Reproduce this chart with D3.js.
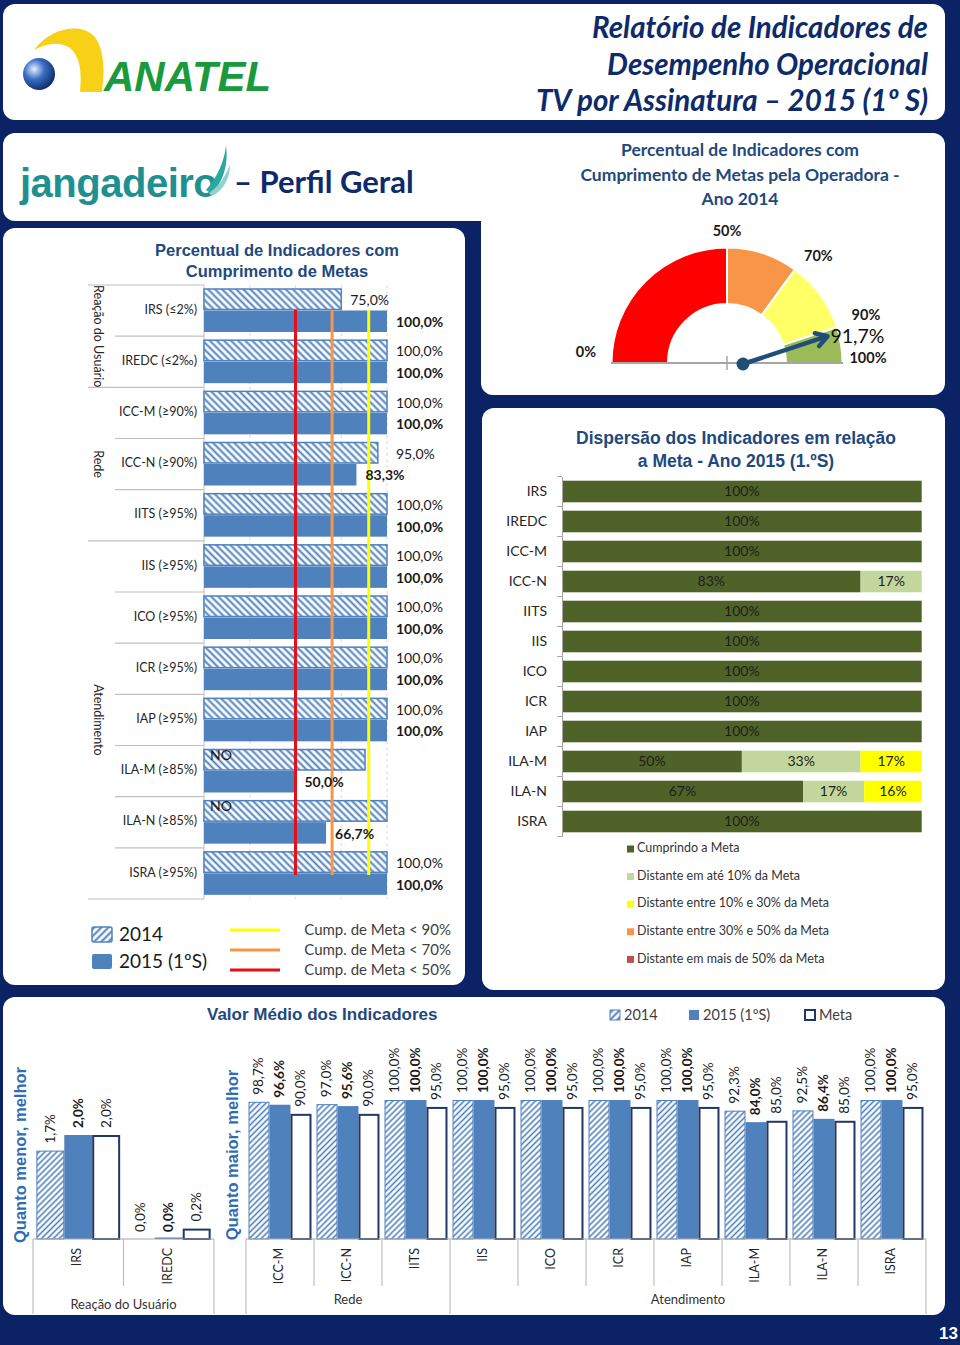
<!DOCTYPE html>
<html><head><meta charset="utf-8">
<script src="https://cdn.jsdelivr.net/npm/d3@7"></script>
<style>body{margin:0;background:#0b2265;} svg{display:block}</style>
</head><body><svg id="c" width="960" height="1345"></svg>
<script>
// ---------------- DATA ----------------
const indicators = ["IRS","IREDC","ICC-M","ICC-N","IITS","IIS","ICO","ICR","IAP","ILA-M","ILA-N","ISRA"];
const indicatorGoals = ["IRS (≤2%)","IREDC (≤2‰)","ICC-M (≥90%)","ICC-N (≥90%)","IITS (≥95%)","IIS (≥95%)","ICO (≥95%)","ICR (≥95%)","IAP (≥95%)","ILA-M (≥85%)","ILA-N (≥85%)","ISRA (≥95%)"];
const groupNames = ["Reação do Usuário","Rede","Atendimento"];
const groupFirst = ["IRS","ICC-M","IIS"];
const groupLast = ["IREDC","IITS","ISRA"];
// Percentual de indicadores com cumprimento de metas
const cump2014 = [75,100,100,95,100,100,100,100,100,88,100,100];
const cump2014Labels = ["75,0%","100,0%","100,0%","95,0%","100,0%","100,0%","100,0%","100,0%","100,0%","NO","NO","100,0%"];
const cump2015 = [100,100,100,83.3,100,100,100,100,100,50,66.7,100];
const thresholdValues = [90,70,50];
const thresholdTexts = ["Cump. de Meta < 90%","Cump. de Meta < 70%","Cump. de Meta < 50%"];
// Gauge (Ano 2014)
const gaugeStops = [0,50,70,90,100];
const gaugeValue = 91.7;
// Dispersão 2015 (1ºS)
const dispCumprindo = [100,100,100,83,100,100,100,100,100,50,67,100];
const dispAte10 = [0,0,0,17,0,0,0,0,0,33,17,0];
const disp10a30 = [0,0,0,0,0,0,0,0,0,17,16,0];
const disp30a50 = [0,0,0,0,0,0,0,0,0,0,0,0];
const dispMais50 = [0,0,0,0,0,0,0,0,0,0,0,0];
const dispSeriesNames = ["Cumprindo a Meta","Distante em até 10% da Meta","Distante entre 10% e 30% da Meta","Distante entre 30% e 50% da Meta","Distante em mais de 50% da Meta"];
// Valor médio dos indicadores
const valor2014 = [1.7,0.0,98.7,97.0,100,100,100,100,100,92.3,92.5,100];
const valor2015 = [2.0,0.0,96.6,95.6,100,100,100,100,100,84.0,86.4,100];
const valorMeta = [2.0,0.2,90,90,95,95,95,95,95,85,85,95];
const seriesNames = ["2014","2015 (1ºS)","Meta"];

// ---------------- STYLE ----------------
const NAVY = "#0b2265", TITLE = "#1f497d", BLUE = "#4f81bd";
const CAL = "Lato, 'Open Sans', sans-serif", ARI = "'Liberation Sans', Arial, sans-serif";
const loc = d3.formatLocale({decimal:",", thousands:".", grouping:[3], currency:["R$",""]});
const pct1 = v => loc.format(".1f")(v) + "%";

const svg = d3.select("#c");
svg.append("rect").attr("width",960).attr("height",1345).attr("fill",NAVY);
const defs = svg.append("defs");
function hatch(id, angle, gap, sw){
  const p = defs.append("pattern").attr("id",id).attr("patternUnits","userSpaceOnUse")
    .attr("width",gap).attr("height",gap).attr("patternTransform",`rotate(${angle})`);
  p.append("rect").attr("width",gap).attr("height",gap).attr("fill","#fff");
  p.append("line").attr("x1",gap/2).attr("x2",gap/2).attr("y1",0).attr("y2",gap).attr("stroke",BLUE).attr("stroke-width",sw);
}
hatch("hL",-45,5,2);
hatch("hB",45,4.2,1.6);
hatch("hLeg",45,5,2);

// ---------------- PANELS ----------------
const panels = [[3,4,942,116],[3,133,478,88],[481,133,464,262],[3,228,462,757],[482,408,463,582],[3,997,942,318]];
svg.selectAll("rect.panel").data(panels).join("rect").attr("class","panel")
  .attr("x",d=>d[0]).attr("y",d=>d[1]).attr("width",d=>d[2]).attr("height",d=>d[3])
  .attr("rx",12).attr("fill","#fff");
svg.append("rect").attr("x",460).attr("y",133).attr("width",40).attr("height",88).attr("fill","#fff");

// ---------------- HEADER ----------------
const logo = svg.append("g");
logo.append("path").attr("d","M34,50 C50,28 80,22 94,36 C106,50 104,78 102,92 L80,92 C82,72 80,56 70,48 C60,41 46,43 34,50 Z").attr("fill","#f7d117");
const sg = defs.append("radialGradient").attr("id","sph").attr("cx","0.35").attr("cy","0.35").attr("r","0.7");
sg.append("stop").attr("offset","0").attr("stop-color","#e8f0ff");
sg.append("stop").attr("offset","0.45").attr("stop-color","#3b6fc4");
sg.append("stop").attr("offset","1").attr("stop-color","#0d2a6b");
logo.append("circle").attr("cx",39).attr("cy",74).attr("r",16).attr("fill","url(#sph)");
logo.append("text").attr("x",104).attr("y",91).attr("font-family",ARI).attr("font-weight","bold")
  .attr("font-style","italic").attr("font-size",42).attr("fill","#1a9a3c").text("ANATEL");
const titleLines = ["Relatório de Indicadores de","Desempenho Operacional","TV por Assinatura – 2015 (1º S)"];
svg.selectAll("text.ht").data(titleLines).join("text").attr("class","ht")
  .attr("x",928).attr("y",(d,i)=>38+i*36.5).attr("text-anchor","end")
  .attr("font-family",CAL).attr("font-weight","bold").attr("font-style","italic")
  .attr("font-size",29.5).attr("fill","#0d2a6b").text(d=>d);

// jangadeiro
svg.append("text").attr("x",20).attr("y",197).attr("font-family",ARI).attr("font-weight","bold")
  .attr("font-size",40).attr("fill","#1f9090").attr("letter-spacing",-0.5).text("jangadeiro");
svg.append("path").attr("d","M206,190 C217,178 224,162 226,146 C228,160 226,178 212,194 Z").attr("fill","#2aa8a0");
svg.append("path").attr("d","M209,193 C219,186 226,176 230,164 C230,178 224,190 212,196 Z").attr("fill","#8fd3cc");
svg.append("text").attr("x",234).attr("y",193).attr("font-family",CAL).attr("font-weight","bold")
  .attr("font-size",31).attr("fill","#0d2a6b").text("– Perfil Geral");

// ---------------- LEFT HORIZONTAL BARS ----------------
const L = svg.append("g");
["Percentual de Indicadores com","Cumprimento de Metas"].forEach((t,i)=>
  L.append("text").attr("x",277).attr("y",256+i*21).attr("text-anchor","middle").attr("font-family",ARI)
   .attr("font-weight","bold").attr("font-size",16.5).attr("fill",TITLE).text(t));
const ly = d3.scaleBand().domain(indicators).range([285,899]);
const lx = d3.scaleLinear().domain([0,100]).range([204,387]);
const ls = d3.scaleBand().domain(["2014","2015"]).range([4,47]);
L.selectAll("line.g").data([25,50,75,100]).join("line").attr("x1",d=>lx(d)).attr("x2",d=>lx(d))
  .attr("y1",285).attr("y2",899).attr("stroke","#d9d9d9").attr("stroke-dasharray","3,3");
const bounds = indicators.map(d=>ly(d)).concat([899]);
L.selectAll("line.s").data(bounds).join("line")
  .attr("x1",(d,i)=> (i===0||i===bounds.length-1||groupFirst.includes(indicators[i])) ? 88 : 115)
  .attr("x2",204).attr("y1",d=>d).attr("y2",d=>d).attr("stroke","#bfbfbf").attr("stroke-width",1.2);
L.append("line").attr("x1",204).attr("x2",204).attr("y1",285).attr("y2",899).attr("stroke","#bfbfbf");
L.selectAll("rect.b14").data(indicators).join("rect")
  .attr("x",lx(0)).attr("y",d=>ly(d)+ls("2014")).attr("height",ls.bandwidth()-1)
  .attr("width",(d,i)=>lx(cump2014[i])-lx(0)).attr("fill","url(#hL)").attr("stroke",BLUE).attr("stroke-width",1.5);
L.selectAll("rect.b15").data(indicators).join("rect")
  .attr("x",lx(0)).attr("y",d=>ly(d)+ls("2015")).attr("height",ls.bandwidth())
  .attr("width",(d,i)=>lx(cump2015[i])-lx(0)).attr("fill",BLUE);
const thrColors = ["#ffff00","#f79646","#e3101a"];
L.selectAll("line.t").data(thresholdValues).join("line").attr("x1",d=>lx(d)).attr("x2",d=>lx(d))
  .attr("y1",310).attr("y2",875).attr("stroke",(d,i)=>thrColors[i]).attr("stroke-width",3);
L.selectAll("text.l14").data(indicators).join("text")
  .attr("x",(d,i)=> cump2014Labels[i]==="NO" ? lx(0)+6 : (cump2014[i]>=90 ? lx(100)+9 : lx(cump2014[i])+9))
  .attr("y",(d,i)=> cump2014Labels[i]==="NO" ? ly(d)+ls("2014")+7 : ly(d)+ls("2014")+ls.bandwidth()/2+2)
  .attr("dominant-baseline","middle").attr("font-family",CAL).attr("font-size",14).attr("fill","#1a1a1a")
  .text((d,i)=>cump2014Labels[i]);
L.selectAll("text.l15").data(indicators).join("text")
  .attr("x",(d,i)=>lx(cump2015[i])+9).attr("y",d=>ly(d)+ls("2015")+ls.bandwidth()/2+2)
  .attr("dominant-baseline","middle").attr("font-family",CAL).attr("font-weight","bold").attr("font-size",14)
  .attr("fill","#1a1a1a").text((d,i)=>pct1(cump2015[i]));
L.selectAll("text.c").data(indicatorGoals).join("text").attr("x",197)
  .attr("y",(d,i)=>ly(indicators[i])+ly.bandwidth()/2).attr("text-anchor","end").attr("dominant-baseline","middle")
  .attr("font-family",CAL).attr("font-size",12.5).attr("fill","#262626").text(d=>d);
groupNames.forEach((g,i)=>{
  const yc = (ly(groupFirst[i]) + ly(groupLast[i]) + ly.bandwidth())/2;
  L.append("text").attr("transform",`translate(97,${yc}) rotate(90)`).attr("text-anchor","middle")
   .attr("dominant-baseline","middle").attr("font-family",CAL).attr("font-size",12.5).attr("fill","#262626").text(g);
});
L.append("rect").attr("x",92).attr("y",927).attr("width",20).attr("height",15).attr("rx",2).attr("fill","url(#hLeg)").attr("stroke",BLUE).attr("stroke-width",1.5);
L.append("rect").attr("x",92).attr("y",954).attr("width",20).attr("height",15).attr("rx",2).attr("fill",BLUE);
["2014","2015 (1ºS)"].forEach((t,i)=>L.append("text").attr("x",119).attr("y",941+i*27).attr("font-family",CAL)
  .attr("font-size",19).attr("fill","#1a1a1a").text(t));
thresholdTexts.forEach((t,i)=>{
  L.append("line").attr("x1",230).attr("x2",280).attr("y1",930+i*20).attr("y2",930+i*20).attr("stroke",thrColors[i]).attr("stroke-width",3);
  L.append("text").attr("x",451).attr("y",935+i*20).attr("text-anchor","end").attr("font-family",CAL)
   .attr("font-size",15).attr("fill","#404040").text(t);
});

// ---------------- GAUGE ----------------
const G = svg.append("g");
["Percentual de Indicadores com","Cumprimento de Metas pela Operadora -","Ano 2014"].forEach((t,i)=>
  G.append("text").attr("x",740).attr("y",156+i*24.5).attr("text-anchor","middle").attr("font-family",CAL)
   .attr("font-weight","bold").attr("font-size",17.5).attr("fill",TITLE).text(t));
const gcx = 727, gcy = 363;
const ga = d3.scaleLinear().domain([0,100]).range([-Math.PI/2, Math.PI/2]);
const arc = d3.arc().innerRadius(59).outerRadius(115.5);
const gColors = ["#ff0000","#f79646","#ffff66","#9bbb59"];
G.selectAll("path.s").data(d3.pairs(gaugeStops)).join("path")
  .attr("transform",`translate(${gcx},${gcy})`)
  .attr("d",d=>arc({startAngle:ga(d[0]),endAngle:ga(d[1])}))
  .attr("fill",(d,i)=>gColors[i]).attr("stroke","#fff").attr("stroke-width",2);
G.append("line").attr("x1",gcx-116).attr("x2",gcx+116).attr("y1",gcy).attr("y2",gcy).attr("stroke","#a6a6a6").attr("stroke-width",2);
G.append("line").attr("x1",gcx).attr("x2",gcx).attr("y1",gcy-7).attr("y2",gcy+7).attr("stroke","#a6a6a6").attr("stroke-width",1.5);
const pol = (v,r)=>{const a=ga(v); return [gcx+r*Math.sin(a), gcy-r*Math.cos(a)];};
const edge = d => d===0 || d===100;
G.selectAll("text.gl").data(gaugeStops).join("text")
  .attr("x",d=>pol(d, edge(d)?141:131)[0])
  .attr("y",d=>pol(d,131)[1]-(d===0?10:(d===100?4:(d===90?6:0))))
  .attr("text-anchor",d=>(d===50||edge(d))?"middle":"start").attr("dominant-baseline","middle")
  .attr("font-family",CAL).attr("font-weight","bold").attr("font-size",14.5).attr("fill","#1a1a1a").text(d=>d+"%");
const piv = [gcx+16, gcy+1];
const tip = pol(gaugeValue,104);
const ang = Math.atan2(tip[1]-piv[1], tip[0]-piv[0]);
G.append("line").attr("x1",piv[0]).attr("y1",piv[1]).attr("x2",tip[0]).attr("y2",tip[1]).attr("stroke","#1f4e79").attr("stroke-width",4.5);
const ah = 13, aw = 0.55;
G.append("path").attr("d",`M${tip[0]-ah*Math.cos(ang-aw)},${tip[1]-ah*Math.sin(ang-aw)} L${tip[0]},${tip[1]} L${tip[0]-ah*Math.cos(ang+aw)},${tip[1]-ah*Math.sin(ang+aw)}`)
  .attr("fill","none").attr("stroke","#1f4e79").attr("stroke-width",4.5).attr("stroke-linecap","round").attr("stroke-linejoin","round");
G.append("circle").attr("cx",piv[0]).attr("cy",piv[1]).attr("r",6.5).attr("fill","#1f4e79");
G.append("text").attr("x",tip[0]+3).attr("y",tip[1]+2).attr("dominant-baseline","middle").attr("font-family",CAL)
  .attr("font-size",19.5).attr("fill","#111").text(loc.format(".1f")(gaugeValue)+"%");

// ---------------- DISPERSION ----------------
const D = svg.append("g");
["Dispersão dos Indicadores em relação","a Meta - Ano 2015 (1.ºS)"].forEach((t,i)=>
  D.append("text").attr("x",736).attr("y",444+i*23).attr("text-anchor","middle").attr("font-family",ARI)
   .attr("font-weight","bold").attr("font-size",17.5).attr("fill",TITLE).text(t));
const dy = d3.scaleBand().domain(indicators).range([476.5,836.5]).paddingInner(0.28).paddingOuter(0.14);
const dx = d3.scaleLinear().domain([0,100]).range([562,921.7]);
const dispCols = ["#4f6228","#c3d69b","#ffff00","#f79646","#c0504d"];
const rows = indicators.map((k,i)=>({k, v:[dispCumprindo[i],dispAte10[i],disp10a30[i],disp30a50[i],dispMais50[i]]}));
const stack = d3.stack().keys([0,1,2,3,4]).value((d,k)=>d.v[k]);
const st = stack(rows);
st.forEach((layer,li)=>{
  D.selectAll(null).data(layer.filter(s=>s[1]>s[0])).join("rect")
   .attr("x",s=>dx(s[0])).attr("width",s=>dx(s[1])-dx(s[0])).attr("y",s=>dy(s.data.k)).attr("height",dy.bandwidth())
   .attr("fill",dispCols[li]);
  D.selectAll(null).data(layer.filter(s=>s[1]>s[0])).join("text")
   .attr("x",s=>(dx(s[0])+dx(s[1]))/2).attr("y",s=>dy(s.data.k)+dy.bandwidth()/2+1)
   .attr("text-anchor","middle").attr("dominant-baseline","middle").attr("font-family",CAL).attr("font-size",14)
   .attr("fill","#1e1e1e").text(s=>(s[1]-s[0])+"%");
});
const dAxis = D.append("g").attr("transform","translate(562,0)").call(d3.axisLeft(dy).tickSize(0).tickPadding(15));
dAxis.select(".domain").attr("stroke","#a6a6a6");
dAxis.selectAll("text").attr("font-family",CAL).attr("font-size",14).attr("fill","#262626");
D.selectAll("line.dt").data(d3.range(13)).join("line").attr("x1",557).attr("x2",562)
  .attr("y1",i=>476.5+i*dy.step()).attr("y2",i=>476.5+i*dy.step()).attr("stroke","#a6a6a6");
dispSeriesNames.forEach((t,i)=>{
  D.append("rect").attr("x",627).attr("y",849+i*27.6-3.5).attr("width",7).attr("height",7).attr("fill",dispCols[i]);
  D.append("text").attr("x",637).attr("y",849+i*27.6).attr("dominant-baseline","middle").attr("font-family",CAL)
   .attr("font-size",12.5).attr("fill","#333").text(t);
});

// ---------------- BOTTOM: VALOR MÉDIO ----------------
const B = svg.append("g");
B.append("text").attr("x",207).attr("y",1020).attr("font-family",ARI).attr("font-weight","bold")
  .attr("font-size",17).attr("fill",TITLE).text("Valor Médio dos Indicadores");
const legX = [610,689,805];
seriesNames.forEach((t,i)=>{
  const r = B.append("rect").attr("x",legX[i]).attr("y",1010).attr("width",10).attr("height",10);
  if(i===0) r.attr("fill","url(#hLeg)").attr("stroke",BLUE);
  else if(i===1) r.attr("fill",BLUE);
  else r.attr("fill","#fff").attr("stroke","#1f3864").attr("stroke-width",2);
  B.append("text").attr("x",legX[i]+14).attr("y",1020).attr("font-family",CAL).attr("font-size",14.5).attr("fill","#404040").text(t);
});
const leftCats = indicators.slice(0,2), rightCats = indicators.slice(2);
const base = 1239;
const bxL = d3.scaleBand().domain(leftCats).range([33,214]);
const bxR = d3.scaleBand().domain(rightCats).range([246,926]);
const byL = d3.scaleLinear().domain([0,2]).range([base,1135]);
const byR = d3.scaleLinear().domain([0,100]).range([base-0.5,1100]);
const sfill = ["url(#hB)",BLUE,"#fff"];
const sstroke = [BLUE,BLUE,"#1f3864"];
const sw = [1,0,2];
const vals = [valor2014,valor2015,valorMeta];
function section(bx, by, cats){
  const inner = d3.scaleBand().domain([0,1,2]).range([0,bx.bandwidth()]).paddingOuter(0.12);
  cats.forEach(c=>{
    const i = indicators.indexOf(c);
    [0,1,2].forEach(s=>{
      const v = vals[s][i];
      const x = bx(c)+inner(s), w = inner.bandwidth();
      const h = base - by(v);
      if(h>0 || s===1){
        const hh = Math.max(h, s===1?1.5:0);
        B.append("rect").attr("x",x+sw[s]/2).attr("width",w-sw[s]).attr("y",base-hh+sw[s]/2)
         .attr("height",Math.max(hh-sw[s]/2,0)).attr("fill",sfill[s]).attr("stroke",sw[s]?sstroke[s]:"none").attr("stroke-width",sw[s]);
      }
      B.append("text").attr("transform",`translate(${x+w/2+1},${by(v)-7}) rotate(-90)`)
       .attr("dominant-baseline","middle").attr("font-family",CAL).attr("font-size",13.5)
       .attr("font-weight",s===1?"bold":"normal").attr("fill","#1a1a1a").text(pct1(v));
    });
    B.append("text").attr("transform",`translate(${bx(c)+bx.bandwidth()/2},${base+9}) rotate(-90)`)
     .attr("text-anchor","end").attr("dominant-baseline","middle").attr("font-family",CAL).attr("font-size",12.5)
     .attr("fill","#262626").text(c);
  });
  B.append("line").attr("x1",bx.range()[0]).attr("x2",bx.range()[1]).attr("y1",base).attr("y2",base).attr("stroke","#a6a6a6");
}
section(bxL, byL, leftCats);
section(bxR, byR, rightCats);
const sepLines = [];
indicators.forEach((c,i)=>{
  const bx = i<2 ? bxL : bxR;
  sepLines.push({x:bx(c), long:groupFirst.includes(c)});
});
sepLines.push({x:214,long:true},{x:926,long:true});
B.selectAll("line.sep").data(sepLines).join("line").attr("x1",d=>d.x).attr("x2",d=>d.x)
  .attr("y1",base).attr("y2",d=>d.long?1314:1286).attr("stroke","#bfbfbf").attr("stroke-width",1.2);
groupNames.forEach((g,i)=>{
  const bx = i===0 ? bxL : bxR;
  const xc = (bx(groupFirst[i]) + bx(groupLast[i]) + bx.bandwidth())/2;
  B.append("text").attr("x",xc).attr("y",i===0?1309:1304).attr("text-anchor","middle").attr("font-family",CAL)
   .attr("font-size",13).attr("fill","#333").text(g);
});
[["Quanto menor, melhor",22],["Quanto maior, melhor",234]].forEach(([t,x])=>
  B.append("text").attr("transform",`translate(${x},1155) rotate(-90)`).attr("text-anchor","middle")
   .attr("dominant-baseline","middle").attr("font-family",ARI).attr("font-weight","bold").attr("font-size",16.5)
   .attr("fill","#2e6db4").text(t));

svg.append("text").attr("x",958).attr("y",1339).attr("text-anchor","end").attr("font-family",ARI)
  .attr("font-weight","bold").attr("font-size",17).attr("fill","#fff").text("13");
</script></body></html>
